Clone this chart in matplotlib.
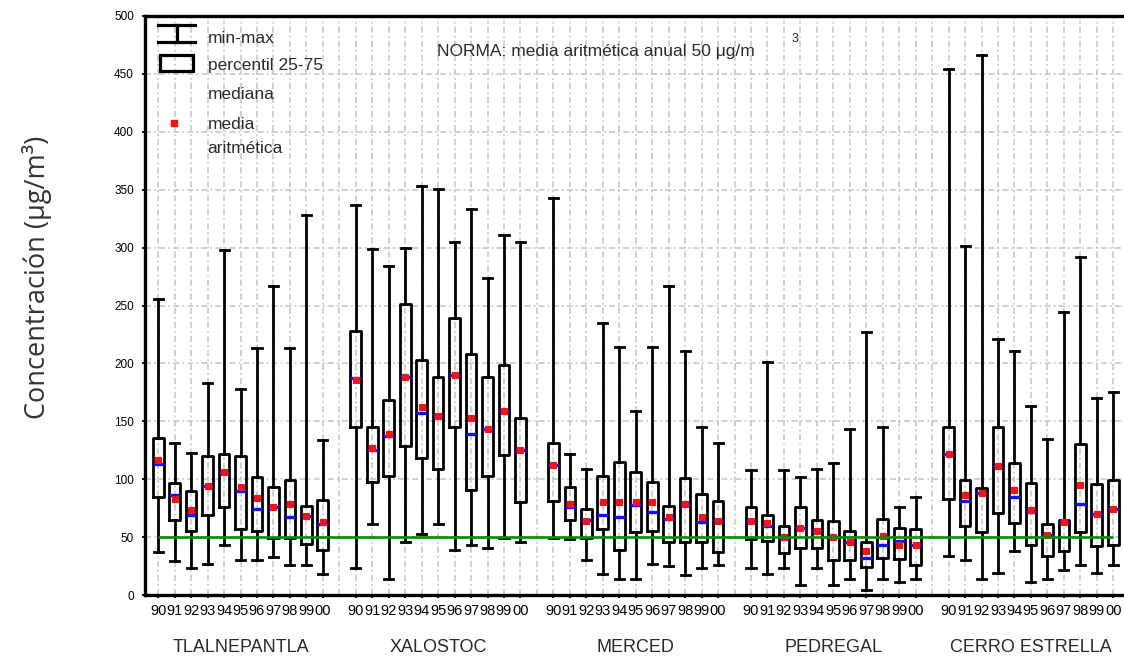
import numpy as np
import matplotlib
matplotlib.use("Agg")
import matplotlib.pyplot as plt
from matplotlib.patches import Rectangle

# === DATA: PM10 annual stats per station, 1990-2000 ===
stations = ["TLALNEPANTLA", "XALOSTOC", "MERCED", "PEDREGAL", "CERRO ESTRELLA"]
years = ["90", "91", "92", "93", "94", "95", "96", "97", "98", "99", "00"]

# each list: 11 years per station, stations in the order above
vmax = [256, 131, 123, 183, 298, 178, 213, 267, 213, 328, 134,
        337, 299, 284, 300, 353, 351, 305, 333, 274, 311, 305,
        343, 122, 109, 235, 214, 159, 214, 267, 211, 145, 131,
        108, 201, 108, 102, 109, 114, 143, 227, 145, 76, 85,
        454, 301, 466, 221, 211, 163, 135, 244, 292, 170, 175]
q3 = [136, 97, 90, 120, 122, 120, 102, 93, 99, 77, 82,
      228, 145, 168, 251, 203, 188, 239, 208, 188, 199, 153,
      131, 93, 74, 103, 115, 106, 98, 77, 101, 87, 81,
      76, 69, 60, 76, 65, 64, 55, 46, 66, 58, 57,
      145, 99, 92, 145, 114, 97, 61, 65, 130, 96, 99]
median = [113, 86, 69, 94, 105, 90, 74, 76, 67, 68, 61,
          187, 125, 137, 188, 157, 155, 190, 139, 143, 159, 125,
          112, 76, 65, 69, 67, 78, 72, 66, 78, 63, 64,
          64, 60, 48, 58, 55, 50, 46, 32, 43, 47, 43,
          122, 81, 88, 111, 85, 72, 52, 63, 79, 70, 74]
mean = [117, 83, 73, 94, 106, 93, 84, 76, 79, 68, 63,
        186, 127, 139, 188, 162, 155, 190, 153, 143, 159, 125,
        112, 79, 64, 80, 80, 80, 80, 67, 79, 67, 64,
        64, 62, 50, 58, 55, 50, 46, 38, 51, 43, 43,
        122, 86, 88, 111, 91, 73, 52, 63, 95, 70, 74]
q1 = [85, 65, 55, 69, 76, 57, 55, 49, 49, 44, 39,
      145, 98, 103, 129, 118, 109, 145, 91, 103, 121, 80,
      81, 65, 49, 57, 39, 54, 55, 46, 46, 46, 37,
      48, 47, 36, 41, 41, 30, 30, 24, 32, 31, 26,
      83, 60, 54, 71, 62, 43, 34, 38, 54, 42, 43]
vmin = [37, 29, 23, 27, 43, 30, 30, 33, 26, 26, 18,
        23, 61, 14, 46, 53, 61, 39, 43, 41, 49, 46,
        49, 48, 30, 18, 14, 14, 27, 25, 17, 23, 26,
        23, 18, 23, 9, 23, 9, 14, 4, 14, 11, 14,
        34, 30, 14, 19, 38, 11, 14, 22, 26, 19, 26]

NORMA = 50

# === CONFIG ===
FONT = "Liberation Sans"
TXT = "#2a2a2a"
GRID = "#c4c4c4"
LW = 2.0

n_years = len(years)
slot = n_years + 1  # one empty slot between stations
positions = [i * slot + j for i in range(len(stations)) for j in range(n_years)]

stats = []
for k in range(len(positions)):
    stats.append(dict(whislo=vmin[k], q1=q1[k], med=median[k], mean=mean[k],
                      q3=q3[k], whishi=vmax[k], fliers=[]))

fig = plt.figure(figsize=(11.24, 6.6), dpi=100)
ax = fig.add_axes([145 / 1124, 65 / 660, 1 - 145 / 1124, 579 / 660])

# grid on every slot, dash-dot grey
for x in range(positions[-1] + 1):
    ax.axvline(x, color=GRID, lw=1.1, ls=(0, (4, 2, 1.2, 2)), zorder=0)
for y in range(50, 500, 50):
    ax.axhline(y, color=GRID, lw=1.1, ls=(0, (4, 2, 1.2, 2)), zorder=0)

ax.bxp(stats, positions=positions, widths=0.65, capwidths=0.55,
       showmeans=True, showfliers=False, patch_artist=False,
       boxprops=dict(color="black", lw=LW),
       whiskerprops=dict(color="black", lw=LW),
       capprops=dict(color="black", lw=LW),
       medianprops=dict(color="#1010ff", lw=2.4, solid_capstyle="butt"),
       meanprops=dict(marker="s", markerfacecolor="#ff1010",
                      markeredgecolor="#ff1010", markersize=4.4, markeredgewidth=0.8),
       manage_ticks=False, zorder=3)

# norm line
ax.hlines(NORMA, positions[0], positions[-1], color="#009000", lw=1.9, zorder=4)

ax.set_xlim(-0.8, 58.65)
ax.set_ylim(0, 500)
ax.set_yticks(range(0, 501, 50))
ax.set_xticks(positions)
ax.set_xticklabels(years * len(stations))

for lab in ax.get_xticklabels():
    lab.set_fontfamily(FONT)
    lab.set_fontsize(10.5)
    lab.set_color("black")
for lab in ax.get_yticklabels():
    lab.set_fontfamily(FONT)
    lab.set_fontsize(8.5)
    lab.set_color("black")
ax.tick_params(axis="x", direction="out", length=2.5, width=1.3, pad=4)
ax.tick_params(axis="y", direction="out", length=2, width=1.3, pad=6)

for side in ["left", "bottom", "top"]:
    ax.spines[side].set_linewidth(2.4)
ax.spines["right"].set_visible(False)

# station names under each group
xform = ax.get_xaxis_transform()
for i, name in enumerate(stations):
    ax.text(i * slot + (n_years - 1) / 2, -0.09, name, transform=xform,
            ha="center", va="center", fontsize=13, family=FONT, color=TXT)

fig.text(37 / 1124, 1 - 277 / 660, "Concentración (μg/m³)", rotation=90,
         ha="center", va="center", fontsize=19.5, family="Open Sans", color="#333333")

# legend block, top left
ax.plot([0, 2.25], [492, 492], color="black", lw=2.3, zorder=5)
ax.plot([0, 2.25], [477.5, 477.5], color="black", lw=2.3, zorder=5)
ax.plot([1.15, 1.15], [477.5, 492], color="black", lw=2.3, zorder=5)
ax.add_patch(Rectangle((0.12, 452.6), 2.0, 13.8, fill=False, ec="black", lw=2.3, zorder=5))
ax.plot([0.97], [407.5], marker="s", color="#ff1010", ms=4.4, zorder=5)
legend_txt = [(481, "min-max"), (457, "percentil 25-75"), (432, "mediana"),
              (406, "media"), (386, "aritmética")]
for yv, t in legend_txt:
    ax.text(3.0, yv, t, ha="left", va="center", fontsize=12.5, family=FONT, color=TXT)

ax.text(16.94, 469.7, "NORMA: media aritmética anual 50 μg/m", ha="left", va="center",
        fontsize=12.5, family=FONT, color=TXT)
ax.text(38.7, 480, "3", ha="center", va="center", fontsize=9, family=FONT, color=TXT)

fig.savefig("out.png", dpi=100)
